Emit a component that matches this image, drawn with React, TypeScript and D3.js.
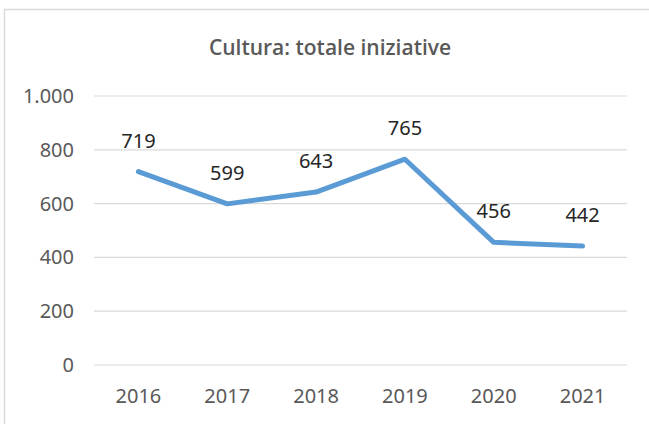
import React from "react";
import * as d3 from "d3";

const years = ["2016", "2017", "2018", "2019", "2020", "2021"];
const values = [719, 599, 643, 765, 456, 442];
const yTicks = [0, 200, 400, 600, 800, 1000];
const title = "Cultura: totale iniziative";

export default function App() {
  const W = 649, H = 424;
  const x = d3.scaleBand<string>().domain(years).range([94, 627]);
  const y = d3.scaleLinear().domain([0, 1000]).range([365, 96]);
  const fmt = (v: number) => (v >= 1000 ? d3.format(",")(v).replace(",", ".") : String(v));
  const line = d3.line<number>()
    .x((_, i) => (x(years[i]) as number) + x.bandwidth() / 2)
    .y((d) => y(d));
  const font = "'Noto Sans', 'Open Sans', sans-serif";
  return (
    <svg width={W} height={H} style={{ position: "absolute", left: 0, top: 0, background: "#fff" }}>
      <rect x={4.5} y={9.5} width={700} height={500} fill="#fff" stroke="#d9d9d9" strokeWidth={1.5} />
      <text x={330} y={55} textAnchor="middle" fontFamily="'Open Sans', sans-serif" fontWeight={600} fontSize={21} fill="#595959">{title}</text>
      {yTicks.map((t) => (
        <g key={t}>
          <line x1={94} x2={627} y1={y(t)} y2={y(t)} stroke="#d9d9d9" strokeWidth={1.2} />
          <text x={74} y={y(t) + 7} textAnchor="end" fontFamily={font} fontSize={20} fill="#595959">{fmt(t)}</text>
        </g>
      ))}
      {years.map((yr) => (
        <text key={yr} x={(x(yr) as number) + x.bandwidth() / 2} y={403} textAnchor="middle" fontFamily={font} fontSize={20} fill="#595959">{yr}</text>
      ))}
      <path d={line(values) || ""} fill="none" stroke="#5B9BD5" strokeWidth={5} strokeLinecap="round" strokeLinejoin="round" />
      {values.map((v, i) => (
        <text key={i} x={(x(years[i]) as number) + x.bandwidth() / 2} y={y(v) - 24} textAnchor="middle" fontFamily={font} fontSize={20} fill="#262626">{fmt(v)}</text>
      ))}
    </svg>
  );
}
